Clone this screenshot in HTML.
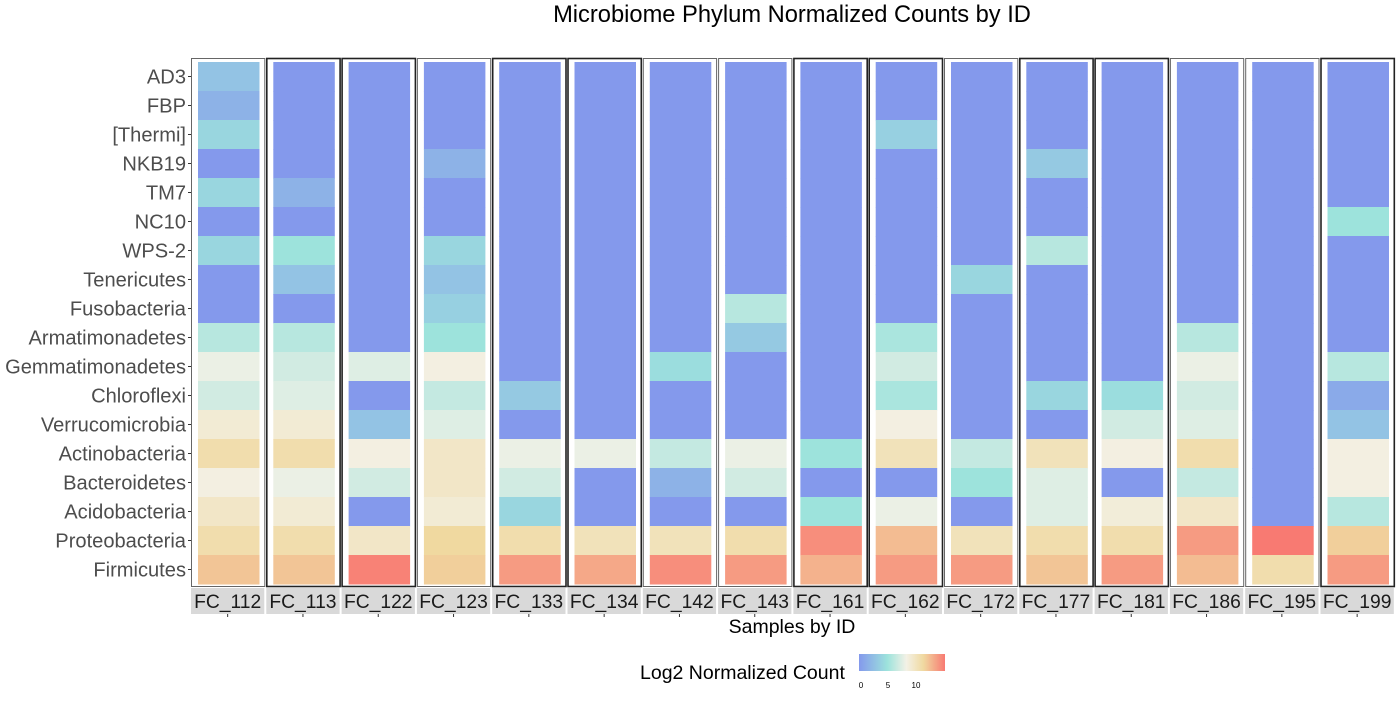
<!DOCTYPE html>
<html><head><meta charset="utf-8"><style>
body{margin:0;background:#fff;font-family:"Liberation Sans",sans-serif}
svg text{font-family:"Liberation Sans",sans-serif}
</style></head><body>
<svg id="chart" width="1400" height="700" xmlns="http://www.w3.org/2000/svg">
<text x="792" y="22" font-size="23.7" text-anchor="middle" fill="#000">Microbiome Phylum Normalized Counts by ID</text>
<text x="792" y="633" font-size="19.5" text-anchor="middle" fill="#000">Samples by ID</text>
<text x="640" y="679" font-size="19.5" fill="#000">Log2 Normalized Count</text>
<defs><linearGradient id="lg" x1="0" x2="1" y1="0" y2="0">
<stop offset="0" stop-color="#8499ec"/><stop offset="0.33" stop-color="#9de3dc"/><stop offset="0.55" stop-color="#f3f1e6"/><stop offset="0.75" stop-color="#f0d9a0"/><stop offset="1" stop-color="#f87a72"/></linearGradient></defs>
<rect x="859" y="654" width="86" height="17" fill="url(#lg)"/>
<text x="861" y="688" font-size="8" text-anchor="middle">0</text>
<text x="888" y="688" font-size="8" text-anchor="middle">5</text>
<text x="916" y="688" font-size="8" text-anchor="middle">10</text>
<g id="plot"></g>
</svg>
<script>
const samples=["FC_112","FC_113","FC_122","FC_123","FC_133","FC_134","FC_142","FC_143","FC_161","FC_162","FC_172","FC_177","FC_181","FC_186","FC_195","FC_199"];
const phyla=["AD3","FBP","[Thermi]","NKB19","TM7","NC10","WPS-2","Tenericutes","Fusobacteria","Armatimonadetes","Gemmatimonadetes","Chloroflexi","Verrucomicrobia","Actinobacteria","Bacteroidetes","Acidobacteria","Proteobacteria","Firmicutes"];
const v112=[2.5,1.5,4,0,4,0,4,0,0,6,8,7,9,10.5,8.5,9.5,10.5,12];
const v113=[0,0,0,0,1.5,0,5,2.5,0,6,7,7.5,9,10.5,8,9,10.5,12];
const v122=[0,0,0,0,0,0,0,0,0,0,7.5,0,2.5,8.5,7,0,9.5,15];
const v123=[0,0,0,1.5,0,0,4,2.5,3.5,5,8.5,6.5,7.5,9.5,9.5,9,11,11.5];
const v133=[0,0,0,0,0,0,0,0,0,0,0,3,0,8,7,4,10.5,14];
const v134=[0,0,0,0,0,0,0,0,0,0,0,0,0,8,0,0,10,13.5];
const v142=[0,0,0,0,0,0,0,0,0,0,4.5,0,0,6.5,1.5,0,10,14.5];
const v143=[0,0,0,0,0,0,0,0,6,3,0,0,0,8,7,0,10.5,14];
const v161=[0,0,0,0,0,0,0,0,0,0,0,0,0,5,0,5,14.5,13];
const v162=[0,0,3.5,0,0,0,0,0,0,5.5,7,5.5,8.5,10,0,8,12.5,14];
const v172=[0,0,0,0,0,0,0,4,0,0,0,0,0,6.5,5,0,10,14];
const v177=[0,0,0,3,0,0,6,0,0,0,0,4,0,10,7.5,7.5,10.5,12];
const v181=[0,0,0,0,0,0,0,0,0,0,0,4.5,7,8.5,0,8.8,10.5,14];
const v186=[0,0,0,0,0,0,0,0,0,6,8,7,7.5,10.5,6.5,9.5,14,12.5];
const v195=[0,0,0,0,0,0,0,0,0,0,0,0,0,0,0,0,15.5,10.5];
const v199=[0,0,0,0,0,5,0,0,0,0,6,1,2.5,8.5,8.5,6,11.5,14];
const values=[v112,v113,v122,v123,v133,v134,v142,v143,v161,v162,v172,v177,v181,v186,v195,v199];
const darkBorder=[0,1,1,0,1,1,0,0,1,1,0,1,1,0,0,1];

const stops=[[0,[132,153,236]],[2.5,[147,195,228]],[5,[157,227,220]],[8.3,[243,241,230]],[11,[240,217,160]],[13.5,[245,168,136]],[15.3,[248,122,114]]];
function col(v){
  for(let i=1;i<stops.length;i++){if(v<=stops[i][0]){const a=stops[i-1],b=stops[i];const t=(v-a[0])/(b[0]-a[0]);
    return "rgb("+a[1].map((c,k)=>Math.round(c+(b[1][k]-c)*t)).join(",")+")";}}
  return "rgb(248,122,114)";
}
const NS="http://www.w3.org/2000/svg";
const g=document.getElementById("plot");
const x0=191,pw=75.3,rowTop=62,rh=29;
function xPanel(i){return x0+i*pw;}
function yRow(j){return rowTop+j*rh;}
function mk(tag,attrs){const e=document.createElementNS(NS,tag);for(const k in attrs)e.setAttribute(k,attrs[k]);g.appendChild(e);return e;}
phyla.forEach((p,j)=>{
  const t=mk("text",{x:186,y:yRow(j)+rh/2+7,"font-size":20.1,"text-anchor":"end",fill:"#4d4d4d"});
  t.textContent=p;
  
  
  const tk=mk("line",{x1:188,x2:191,y1:yRow(j)+rh/2,y2:yRow(j)+rh/2,stroke:"#333"});
  
  
});
samples.forEach((s,i)=>{
  const px=xPanel(i);
  values[i].forEach((v,j)=>{
    const r=mk("rect",{x:px+7,y:yRow(j),width:61.5,height:rh+0.5,fill:col(v)});
    
    
  });
  const b=mk("rect",{x:px+0.5,y:58.5,width:pw-2,height:528,fill:"none",stroke:darkBorder[i]?"#222":"#666","stroke-width":darkBorder[i]?1.6:1});
  
  
  const st=mk("rect",{x:px,y:588,width:pw-2,height:26,fill:"#d9d9d9"});
  
  
  const tx=mk("text",{x:px+(pw-2)/2,y:608,"font-size":19.3,"text-anchor":"middle",fill:"#1a1a1a"});
  tx.textContent=s;
  
  
  const tk=mk("line",{x1:px+(pw-2)/2,x2:px+(pw-2)/2,y1:614,y2:617,stroke:"#333"});
  
  
});
</script>
</body></html>
